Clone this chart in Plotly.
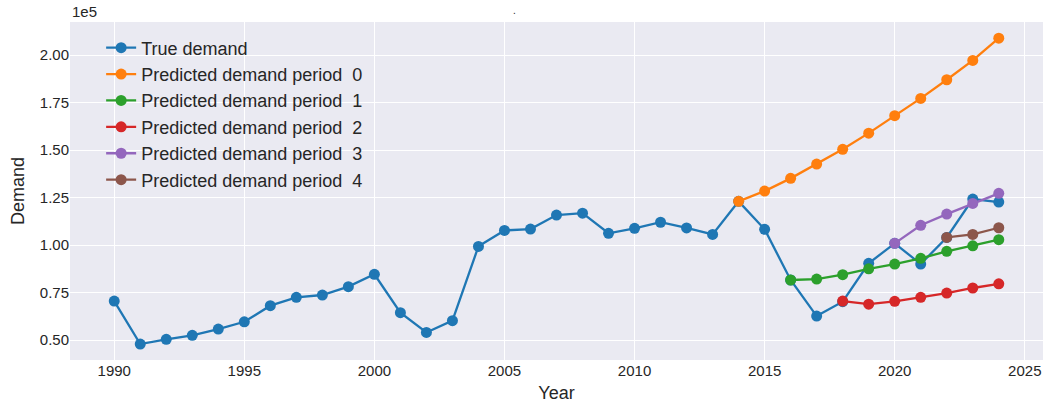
import plotly.graph_objects as go

# Annual demand, observed and forecast by successive planning periods
years_true = list(range(1990, 2025))
true_demand = [70500, 47900, 50400, 52500, 55800, 59600, 68100, 72500, 73700, 78100,
               84600, 64400, 54000, 60200, 99300, 107700, 108400, 115800, 116800, 106200,
               108800, 112000, 109000, 105600, 123000, 108300, 81600, 62600, 70200, 90400,
               100900, 90000, 104000, 124200, 122600]

years_p0 = list(range(2014, 2025))
pred_p0 = [123000, 128400, 135100, 142600, 150400, 158900, 168100, 177200, 187000, 197200, 208900]

years_p1 = list(range(2016, 2025))
pred_p1 = [81600, 82100, 84400, 87500, 90000, 93000, 96700, 99600, 102800]

years_p2 = list(range(2018, 2025))
pred_p2 = [70500, 68900, 70400, 72500, 74700, 77400, 79600]

years_p3 = list(range(2020, 2025))
pred_p3 = [100900, 110400, 116300, 121900, 127200]

years_p4 = list(range(2022, 2025))
pred_p4 = [104000, 105600, 109100]

y_ticks = [50000, 75000, 100000, 125000, 150000, 175000, 200000]
x_ticks = [1990, 1995, 2000, 2005, 2010, 2015, 2020, 2025]

series = [
    ("True demand", years_true, true_demand, "#1f77b4"),
    ("Predicted demand period  0", years_p0, pred_p0, "#ff7f0e"),
    ("Predicted demand period  1", years_p1, pred_p1, "#2ca02c"),
    ("Predicted demand period  2", years_p2, pred_p2, "#d62728"),
    ("Predicted demand period  3", years_p3, pred_p3, "#9467bd"),
    ("Predicted demand period  4", years_p4, pred_p4, "#8c564b"),
]

fig = go.Figure()
for name, xs, ys, color in series:
    fig.add_trace(go.Scatter(
        x=xs, y=ys, name=name, mode="lines+markers",
        line=dict(color=color, width=2.3),
        marker=dict(color=color, size=11),
    ))

text_color = "#262626"
fig.update_layout(
    width=1045, height=406,
    margin=dict(l=70, r=2, t=22, b=46),
    paper_bgcolor="white",
    plot_bgcolor="#EAEAF2",
    font=dict(family="Liberation Sans, Arial, sans-serif", color=text_color, size=15),
    showlegend=True,
    legend=dict(
        x=0.032, y=0.978, xanchor="left", yanchor="top",
        bgcolor="rgba(0,0,0,0)",
        font=dict(size=18, color=text_color),
        tracegroupgap=0,
    ),
    xaxis=dict(
        range=[1988.3, 2025.7],
        tickvals=x_ticks,
        ticktext=[str(t) for t in x_ticks],
        showgrid=True, gridcolor="white", gridwidth=1.3,
        zeroline=False, showline=False, ticks="",
        tickfont=dict(size=15, color=text_color),
        title=dict(text="Year", font=dict(size=18, color=text_color), standoff=8),
    ),
    yaxis=dict(
        range=[39500, 217400],
        tickvals=y_ticks,
        ticktext=[f"{v / 1e5:.2f}" for v in y_ticks],
        showgrid=True, gridcolor="white", gridwidth=1.3,
        zeroline=False, showline=False, ticks="",
        tickfont=dict(size=15, color=text_color),
        title=dict(text="Demand", font=dict(size=18, color=text_color), standoff=10),
    ),
    annotations=[
        dict(text="1e5", xref="paper", yref="paper", x=0, y=1.0,
             xanchor="left", yanchor="bottom", showarrow=False,
             font=dict(size=15, color=text_color)),
        dict(text=".", xref="paper", yref="paper", x=0.457, y=1.0,
             xanchor="center", yanchor="bottom", showarrow=False,
             font=dict(size=10, color=text_color), yshift=4),
    ],
)

fig.write_html("out.html")
